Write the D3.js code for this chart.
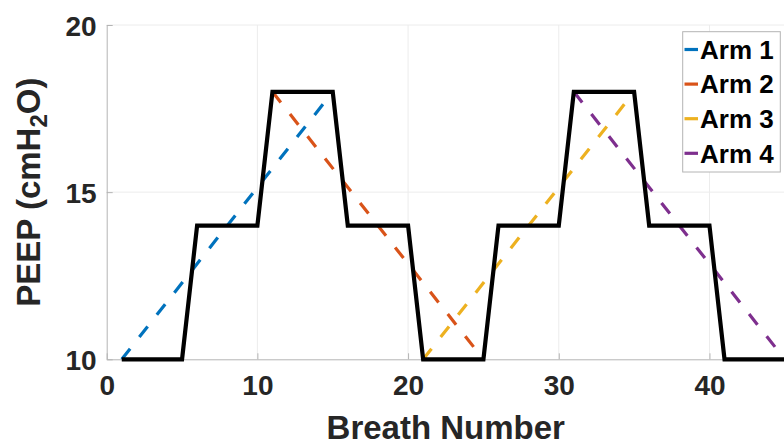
<!DOCTYPE html>
<html>
<head>
<meta charset="utf-8">
<script src="https://cdn.jsdelivr.net/npm/d3@7"></script>
<style>
  html, body { margin: 0; padding: 0; background: #fff; }
  svg { display: block; }
  text { font-family: "Liberation Sans", Arial, sans-serif; font-weight: bold; }
</style>
</head>
<body>
<svg id="chart" width="784" height="441"></svg>
<script>
// PEEP schedule, one value per breath (cmH2O)
const breaths = [1,2,3,4,5,6,7,8,9,10,11,12,13,14,15,16,17,18,19,20,21,22,23,24,25,26,27,28,29,30,31,32,33,34,35,36,37,38,39,40,41,42,43,44,45];
const peep = [10,10,10,10,10,14,14,14,14,14,18,18,18,18,18,14,14,14,14,14,10,10,10,10,10,14,14,14,14,14,18,18,18,18,18,14,14,14,14,14,10,10,10,10,10];

// Reference ramps for each arm
const armNames = ["Arm 1", "Arm 2", "Arm 3", "Arm 4"];
const armStartBreath = [1, 11, 21, 31];
const armEndBreath = [15, 25, 35, 45];
const armStartPeep = [10, 18, 10, 18];
const armEndPeep = [18, 10, 18, 10];
const armColors = ["#0072BD", "#D95319", "#EDB120", "#7E2F8E"];

const xTicks = [0, 10, 20, 30, 40];
const yTicks = [10, 15, 20];

const svg = d3.select("#chart");
const plotLeft = 106.7, plotRight = 784.8, plotTop = 25, plotBottom = 359.3;

const x = d3.scaleLinear().domain([0, 45]).range([plotLeft, plotRight]);
const y = d3.scaleLinear().domain([10, 20]).range([plotBottom, plotTop]);

const axisGrey = "#b4b4b4";
const gridGrey = "#ececec";
const labelColor = "#262626";

// grid
const grid = svg.append("g");
grid.selectAll("line.gx").data(xTicks.filter(d => d > 0)).join("line")
  .attr("x1", d => x(d)).attr("x2", d => x(d))
  .attr("y1", plotTop).attr("y2", plotBottom)
  .attr("stroke", gridGrey).attr("stroke-width", 1);
grid.selectAll("line.gy").data(yTicks.filter(d => d > 10)).join("line")
  .attr("x1", plotLeft).attr("x2", plotRight)
  .attr("y1", d => y(d)).attr("y2", d => y(d))
  .attr("stroke", gridGrey).attr("stroke-width", 1);

// axes
const xAxis = d3.axisBottom(x).tickValues(xTicks).tickSizeInner(-6).tickSizeOuter(0).tickPadding(16);
const yAxis = d3.axisLeft(y).tickValues(yTicks).tickSizeInner(-6).tickSizeOuter(0).tickPadding(10);

const gx = svg.append("g").attr("transform", `translate(0,${plotBottom})`).call(xAxis);
const gy = svg.append("g").attr("transform", `translate(${plotLeft},0)`).call(yAxis);

[gx, gy].forEach(g => {
  g.select(".domain").attr("stroke", axisGrey).attr("stroke-width", 1);
  g.selectAll(".tick line").attr("stroke", axisGrey);
  g.selectAll(".tick text")
    .attr("fill", labelColor)
    .style("font-size", "28px")
    .style("font-weight", "bold")
    .style("font-family", "'Liberation Sans', Arial, sans-serif");
});
gx.selectAll(".tick text").attr("dy", "0.71em");
gy.selectAll(".tick text").attr("dy", "0.36em");

// axis titles
svg.append("text")
  .attr("x", (plotLeft + plotRight) / 2).attr("y", 438.5)
  .attr("text-anchor", "middle")
  .attr("fill", labelColor)
  .style("font-size", "33px")
  .text("Breath Number");

const yTitle = svg.append("text")
  .attr("transform", `translate(40,${(plotTop + plotBottom) / 2}) rotate(-90)`)
  .attr("text-anchor", "middle")
  .attr("fill", labelColor)
  .style("font-size", "33px");
yTitle.append("tspan").text("PEEP (cmH");
yTitle.append("tspan").attr("dy", 7).style("font-size", "24px").text("2");
yTitle.append("tspan").attr("dy", -7).text("O)");

// arm ramps
const arms = armNames.map((name, i) => ({
  name,
  color: armColors[i],
  pts: [[armStartBreath[i], armStartPeep[i]], [armEndBreath[i], armEndPeep[i]]]
}));
const line = d3.line().x(d => x(d[0])).y(d => y(d[1]));

svg.append("g").selectAll("path").data(arms).join("path")
  .attr("d", d => line(d.pts))
  .attr("fill", "none")
  .attr("stroke", d => d.color)
  .attr("stroke-width", 3.2)
  .attr("stroke-dasharray", "13.5,14.8");

// PEEP schedule
svg.append("path")
  .datum(breaths.map((b, i) => [b, peep[i]]))
  .attr("d", line)
  .attr("fill", "none")
  .attr("stroke", "#000")
  .attr("stroke-width", 4.2)
  .attr("stroke-linejoin", "miter");

// legend
const lg = svg.append("g");
lg.append("rect")
  .attr("x", 682.7).attr("y", 31.7).attr("width", 97.6).attr("height", 140.3)
  .attr("fill", "#fff").attr("stroke", axisGrey).attr("stroke-width", 1);
const items = lg.selectAll("g.item").data(arms).join("g")
  .attr("transform", (d, i) => `translate(0,${49.5 + i * 34.6})`);
items.append("line")
  .attr("x1", 684.5).attr("x2", 698).attr("y1", 0).attr("y2", 0)
  .attr("stroke", d => d.color).attr("stroke-width", 3.2);
items.append("text")
  .attr("x", 700).attr("y", 0).attr("dy", "0.36em")
  .attr("fill", "#000")
  .style("font-size", "26px")
  .text(d => d.name);
</script>
</body>
</html>
